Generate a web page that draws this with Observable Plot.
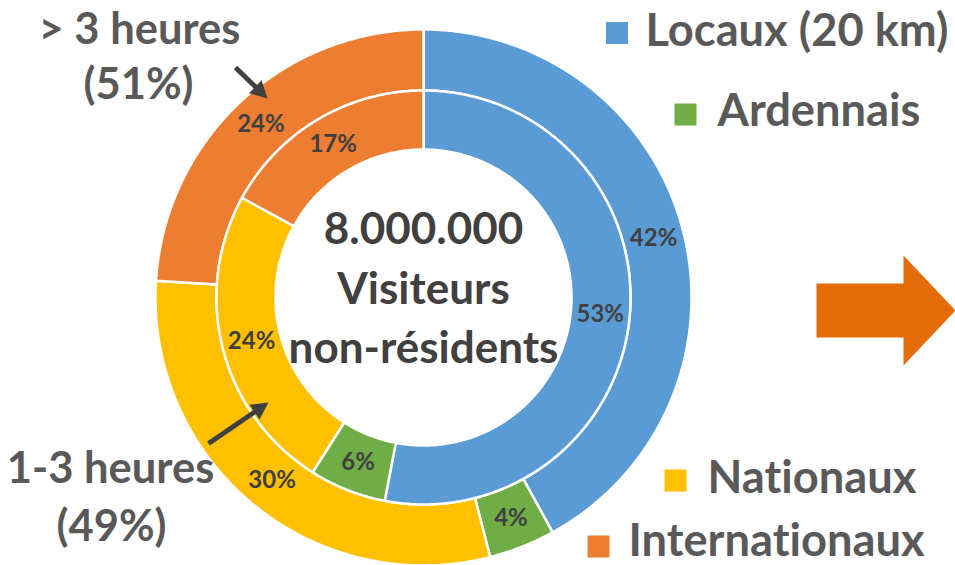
<!DOCTYPE html>
<html><head><meta charset="utf-8">
<script src="https://cdn.jsdelivr.net/npm/d3@7"></script>
<script src="https://cdn.jsdelivr.net/npm/@observablehq/plot@0.6"></script>
<style>
body{margin:0;background:#fff}
#chart{width:955px;height:565px;overflow:hidden}
svg text{font-variant-ligatures:none;font-feature-settings:"liga" 0,"clig" 0}
</style>
</head><body><div id="chart"></div>
<script>
// ---- data ----
const categories = ["Locaux (20 km)", "Ardennais", "Nationaux", "Internationaux"];
const outerValues = [42, 4, 30, 24];
const innerValues = [53, 6, 24, 17];
const colors = ["#5B9BD5", "#70AD47", "#FFC000", "#ED7D31"];
const groupLabels = ["> 3 heures", "(51%)", "1-3 heures", "(49%)"];
const centerLines = ["8.000.000", "Visiteurs", "non-résidents"];

// ---- layout (pixels) ----
const W = 955, H = 565, cx = 423, cy = 297;
const FONT = "Lato, 'Open Sans', sans-serif";
const ringLayout = [
  {name: "outer", values: outerValues, r0: 207, r1: 268},
  {name: "inner", values: innerValues, r0: 148, r1: 207}
];
const groupLabelPos = [[139, 43], [138, 98], [110, 482], [111, 540]];
const centerBaselines = [243, 303, 362];
const legendPos = [[616.5, 32.5, 645, 45], [685, 114, 717, 125], [675, 480, 707, 492], [598, 546, 628, 555]];
const darkArrows = [[235, 67, 267, 98], [208, 443, 268, 402]];
const bigArrow = {x0: 816, x1: 903, x2: 955, ym: 310, shaft: 27, head: 55};

const ctx = document.createElement("canvas").getContext("2d");
function fit(text, width) {
  ctx.font = `bold 100px ${FONT}`;
  return 100 * width / ctx.measureText(text).width;
}
const centerSize = fit(centerLines[2], 270);
const groupSize = fit(groupLabels[0], 202);
const legendSize = fit(categories[0], 303);

// ---- slices ----
const slicePolys = [], sliceLabels = [];
for (const ring of ringLayout) {
  const total = d3.sum(ring.values);
  let acc = 0;
  ring.values.forEach((v, i) => {
    const a0 = acc / total * 2 * Math.PI; acc += v;
    const a1 = acc / total * 2 * Math.PI;
    const n = Math.max(2, Math.ceil((a1 - a0) / 0.01));
    const pt = (r, a) => ({x: cx + r * Math.sin(a), y: cy - r * Math.cos(a)});
    const pts = [];
    for (let k = 0; k <= n; k++) pts.push(pt(ring.r1, a0 + (a1 - a0) * k / n));
    for (let k = n; k >= 0; k--) pts.push(pt(ring.r0, a0 + (a1 - a0) * k / n));
    slicePolys.push({points: pts, color: colors[i]});
    sliceLabels.push({...pt((ring.r0 + ring.r1) / 2, (a0 + a1) / 2), text: v + "%"});
  });
}

// arrows
const arrowShafts = [], arrowHeads = [];
darkArrows.forEach(([x1, y1, x2, y2]) => {
  const dx = x2 - x1, dy = y2 - y1, L = Math.hypot(dx, dy);
  const ux = dx / L, uy = dy / L, hl = 17, hw = 9;
  const bx = x2 - ux * hl, by = y2 - uy * hl;
  arrowShafts.push({x1, y1, x2: bx + ux * 2, y2: by + uy * 2});
  arrowHeads.push([{x: x2, y: y2}, {x: bx - uy * hw, y: by + ux * hw}, {x: bx + uy * hw, y: by - ux * hw}]);
});
const b = bigArrow;
const bigArrowPts = [
  {x: b.x0, y: b.ym - b.shaft}, {x: b.x1, y: b.ym - b.shaft}, {x: b.x1, y: b.ym - b.head},
  {x: b.x2, y: b.ym}, {x: b.x1, y: b.ym + b.head}, {x: b.x1, y: b.ym + b.shaft}, {x: b.x0, y: b.ym + b.shaft}
];

const legendData = categories.map((c, i) => ({c, color: colors[i], sx: legendPos[i][0], sy: legendPos[i][1], tx: legendPos[i][2], ty: legendPos[i][3]}));
const groupData = groupLabels.map((t, i) => ({t, x: groupLabelPos[i][0], y: groupLabelPos[i][1]}));
const centerData = centerLines.map((t, i) => ({t, x: cx, y: centerBaselines[i]}));

const plot = Plot.plot({
  width: W, height: H, margin: 0,
  x: {domain: [0, W], range: [0, W], axis: null},
  y: {domain: [0, H], range: [0, H], axis: null},
  style: {background: "white", fontFamily: FONT, overflow: "hidden"},
  marks: [
    ...slicePolys.map(s => Plot.line(s.points, {x: "x", y: "y", fill: s.color, stroke: "white", strokeWidth: 2.5, curve: "linear-closed"})),
    Plot.text(sliceLabels, {x: "x", y: "y", text: "text", fontSize: 24, fontWeight: "bold", fill: "#404040", lineAnchor: "middle"}),
    Plot.text(centerData, {x: "x", y: "y", text: "t", fontSize: centerSize, fontWeight: "bold", fill: "#404040", lineAnchor: "bottom"}),
    Plot.text(groupData, {x: "x", y: "y", text: "t", fontSize: groupSize, fontWeight: "bold", fill: "#595959", lineAnchor: "bottom"}),
    Plot.link(arrowShafts, {x1: "x1", y1: "y1", x2: "x2", y2: "y2", stroke: "#404040", strokeWidth: 5}),
    ...arrowHeads.map(h => Plot.line(h, {x: "x", y: "y", fill: "#404040", stroke: "none", curve: "linear-closed"})),
    Plot.line(bigArrowPts, {x: "x", y: "y", fill: "#E46C0A", stroke: "none", curve: "linear-closed"}),
    Plot.dot(legendData, {x: "sx", y: "sy", fill: "color", symbol: "square", r: 12.4, stroke: "none"}),
    Plot.text(legendData, {x: "tx", y: "ty", text: "c", fontSize: legendSize, fontWeight: "bold", fill: "#595959", textAnchor: "start", lineAnchor: "bottom"})
  ],
  color: {type: "identity"}
});
document.getElementById("chart").appendChild(plot);
</script>
</body></html>
